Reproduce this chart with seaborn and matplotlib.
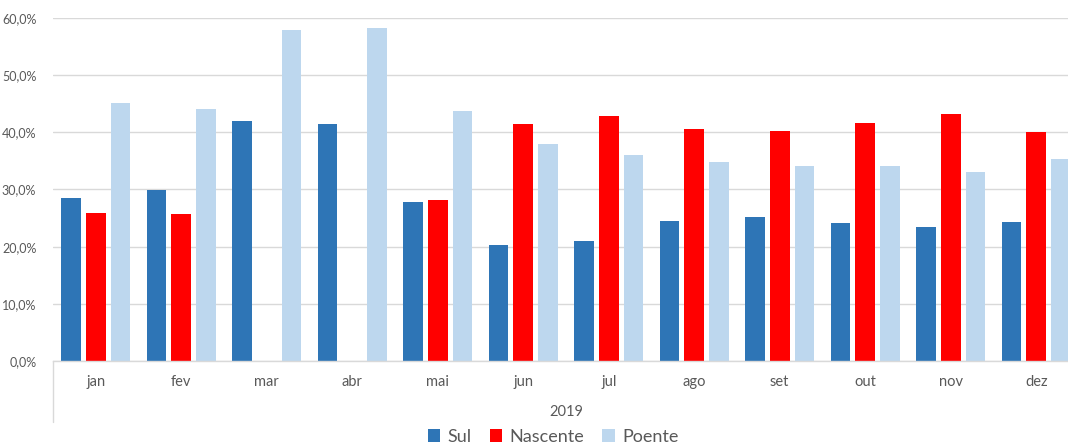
import numpy as np
import pandas as pd
import matplotlib
matplotlib.use("Agg")
import matplotlib.pyplot as plt
from matplotlib.ticker import FuncFormatter, MultipleLocator
from matplotlib.patches import Patch
import seaborn as sns

months = ["jan", "fev", "mar", "abr", "mai", "jun", "jul", "ago", "set", "out", "nov", "dez"]
sul = [28.6, 29.9, 42.0, 41.4, 27.9, 20.3, 21.0, 24.5, 25.2, 24.1, 23.5, 24.3]
nascente = [25.9, 25.8, 0.0, 0.0, 28.2, 41.4, 42.8, 40.6, 40.3, 41.6, 43.2, 40.1]
poente = [45.2, 44.1, 57.9, 58.3, 43.8, 38.0, 36.0, 34.8, 34.1, 34.1, 33.1, 35.4]
series_names = ["Sul", "Nascente", "Poente"]
colors = ["#2E75B6", "#FF0000", "#BDD7EE"]
year_label = "2019"

df = pd.DataFrame({
    "mes": months * 3,
    "serie": np.repeat(series_names, len(months)),
    "valor": sul + nascente + poente,
})

sns.set_theme(style="white")
plt.rcParams["font.family"] = ["Lato", "DejaVu Sans"]

fig = plt.figure(figsize=(10.68, 4.48), dpi=100)
ax = fig.add_axes([53 / 1068, 87 / 448, 1026 / 1068, 343 / 448])

sns.barplot(data=df, x="mes", y="valor", hue="serie", order=months,
            hue_order=series_names, palette=colors, width=0.866, gap=0.2,
            saturation=1, legend=False, ax=ax, edgecolor="none")

ax.set_ylim(0, 60)
ax.set_xlim(-0.5, 11.5)
ax.yaxis.set_major_locator(MultipleLocator(10))
ax.yaxis.set_major_formatter(FuncFormatter(lambda v, p: f"{v:.1f}%".replace(".", ",")))
ax.grid(axis="y", color="#d9d9d9", linewidth=1)
ax.set_axisbelow(True)
for s in ["top", "right", "left"]:
    ax.spines[s].set_visible(False)
ax.spines["bottom"].set_color("#d9d9d9")
ax.spines["bottom"].set_linewidth(1)
ax.tick_params(axis="both", length=0, colors="#595959")
ax.tick_params(axis="y", labelsize=9, pad=12)
ax.tick_params(axis="x", labelsize=10.5, pad=10)
ax.set_xlabel("")
ax.set_ylabel("")

# group bracket line and year label under the month labels
ax.plot([0, 0], [0, -61 / 343], transform=ax.transAxes, color="#d9d9d9",
        linewidth=1, clip_on=False)
ax.text(0.5, -51 / 343, year_label, transform=ax.transAxes, ha="center",
        va="center", fontsize=10.5, color="#595959")

handles = [Patch(facecolor=c, edgecolor="none", label=n) for c, n in zip(colors, series_names)]
fig.legend(handles=handles, loc="center", bbox_to_anchor=(553 / 1068, 11 / 448),
           ncol=3, frameon=False, fontsize=13, handlelength=0.7, handleheight=0.7,
           handletextpad=0.4, columnspacing=1.0, labelcolor="#595959")

fig.savefig("out.png", dpi=100, facecolor="white")
